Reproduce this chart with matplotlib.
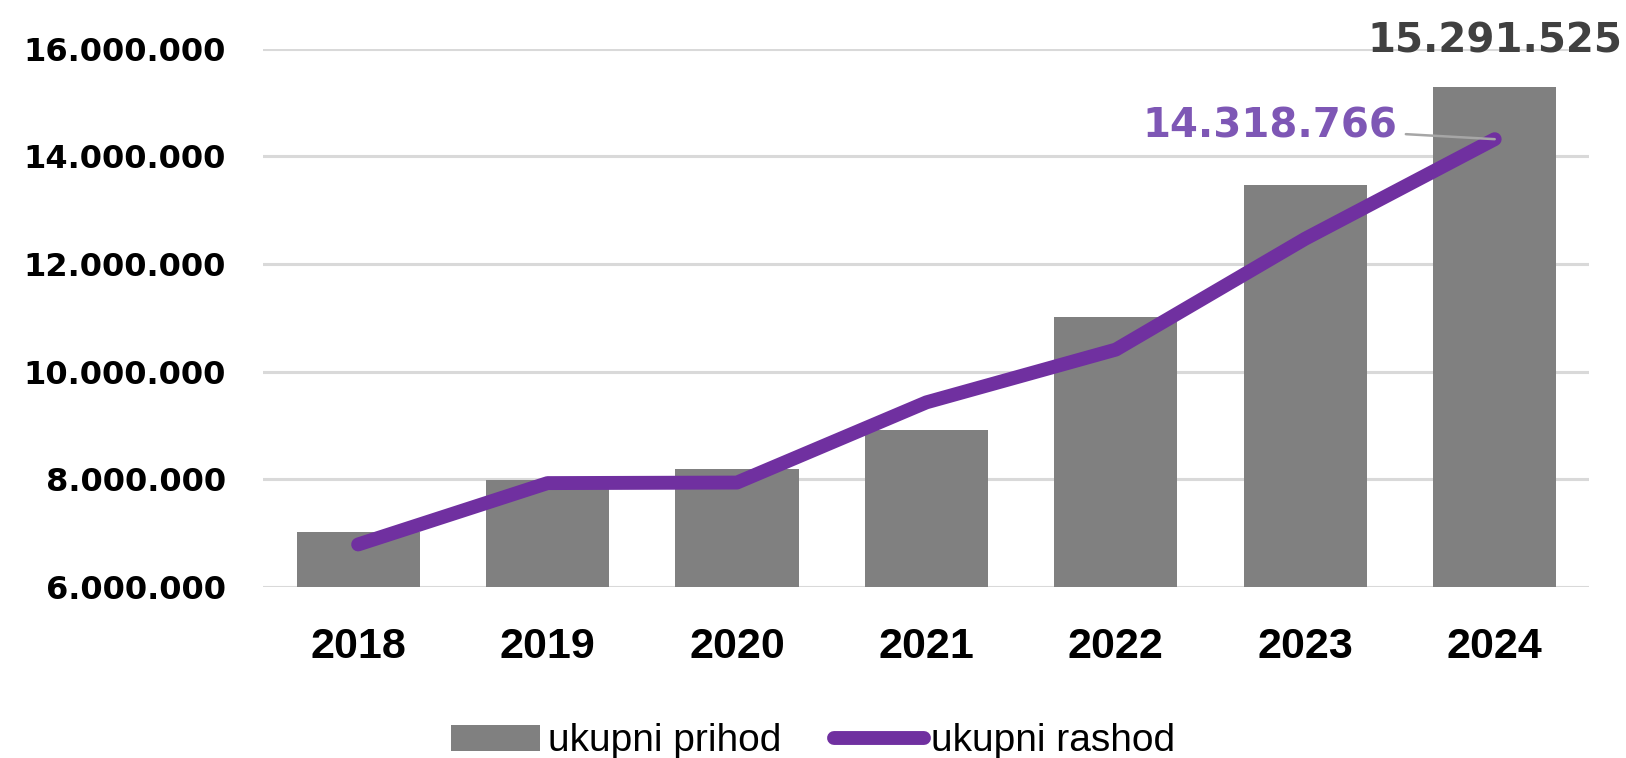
import matplotlib
matplotlib.use("Agg")
from matplotlib import pyplot as plt
from matplotlib.ticker import FuncFormatter

# data
years = ['2018', '2019', '2020', '2021', '2022', '2023', '2024']
prihod = [7020000, 7980000, 8200000, 8910000, 11010000, 13460000, 15291525]
rashod = [6790000, 7930000, 7940000, 9430000, 10410000, 12470000, 14318766]

BAR_COLOR = '#808080'
LINE_COLOR = '#7030A0'
GRID_COLOR = '#D9D9D9'

plt.rcParams['font.family'] = ['Liberation Sans', 'DejaVu Sans']


def fmt_thousands(v, pos=None):
    return f"{int(round(v)):,}".replace(',', '.')


fig = plt.figure(figsize=(16.26, 7.58), dpi=100)
ax = fig.add_axes([0.162, 0.2256, 0.8155, 0.7102])

x = list(range(len(years)))
bars = ax.bar(x, prihod, width=0.65, color=BAR_COLOR, label='ukupni prihod', zorder=2)
line, = ax.plot(x, rashod, color=LINE_COLOR, lw=10, solid_capstyle='round',
                solid_joinstyle='round', label='ukupni rashod', zorder=3)

ax.set_xlim(-0.5, len(years) - 0.5)
ax.set_ylim(6000000, 16000000)
ax.set_yticks(range(6000000, 16000001, 2000000))
ax.yaxis.set_major_formatter(FuncFormatter(fmt_thousands))
ax.set_xticks(x)
ax.set_xticklabels(years)

ax.grid(axis='y', color=GRID_COLOR, lw=2.2, zorder=0)
ax.set_axisbelow(True)
for s in ax.spines.values():
    s.set_visible(False)
ax.tick_params(axis='both', length=0)
ax.tick_params(axis='x', pad=29)
ax.tick_params(axis='y', pad=27)
for lab in ax.get_xticklabels():
    lab.set_fontweight('bold')
    lab.set_fontsize(31)
for lab in ax.get_yticklabels():
    lab.set_fontweight('bold')
    lab.set_fontsize(23)
    lab.set_family('DejaVu Sans')

# data labels for the last year
ax.text(x[-1], 15926000, fmt_thousands(prihod[-1]), ha='center', va='baseline',
        fontsize=29, fontweight='bold', color='#404040', family='DejaVu Sans',
        clip_on=False)
ax.annotate(fmt_thousands(rashod[-1]), xy=(x[-1], rashod[-1]),
            xytext=(5.487, 14350000), ha='right', va='baseline',
            fontsize=29, fontweight='bold', color='#7E57B5', family='DejaVu Sans',
            arrowprops=dict(arrowstyle='-', color='#A6A6A6', lw=1.8,
                            shrinkA=4, shrinkB=0))

fig.legend(handles=[bars, line], loc='center', bbox_to_anchor=(0.5, 0.022),
           ncol=2, frameon=False, prop={'family': 'Liberation Sans', 'size': 28},
           handlelength=2.3, handleheight=0.65, columnspacing=1.36, handletextpad=0.2)

fig.savefig('out.png', dpi=100)
